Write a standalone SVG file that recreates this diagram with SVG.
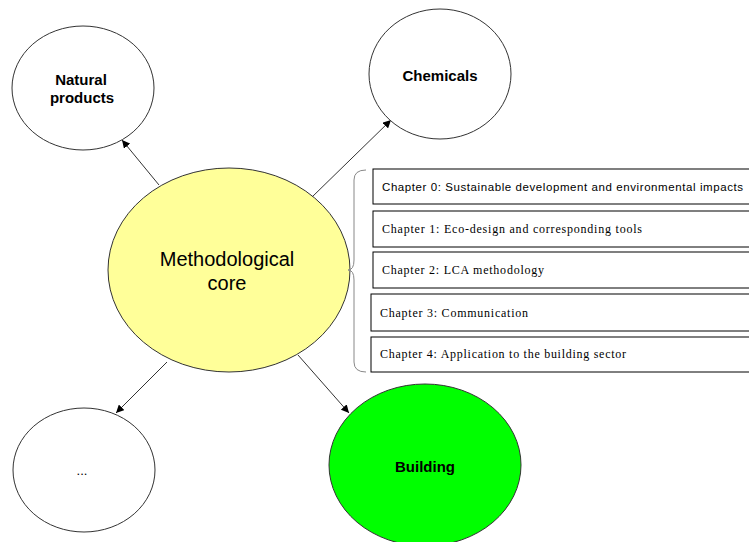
<svg xmlns="http://www.w3.org/2000/svg" width="749" height="542" viewBox="0 0 749 542">
<defs>
<style>
.node{stroke:#333;stroke-width:1}
.lbl{font-family:"Liberation Sans",Arial,sans-serif;font-weight:bold;font-size:15px;fill:#000;text-anchor:middle}
.core{font-family:"Liberation Sans",Arial,sans-serif;font-size:20px;fill:#000;text-anchor:middle}
.box{fill:#fff;stroke:#000;stroke-width:1}
.ser{font-family:"Liberation Serif","Times New Roman",serif;font-size:12px;fill:#000}
.san{font-family:"Liberation Sans",Arial,sans-serif;font-size:11.5px;fill:#000}
.conn{stroke:#333;stroke-width:1;fill:none;marker-end:url(#ah)}
</style>
<marker id="ah" viewBox="0 0 10 10" refX="10" refY="5" markerWidth="8" markerHeight="8" markerUnits="userSpaceOnUse" orient="auto">
<path d="M0,0 L10,5 L0,10 z" fill="#000"/>
</marker>
</defs>
<rect width="749" height="542" fill="#fff"/>
<g id="connectors">
<line class="conn" x1="159" y1="185" x2="122" y2="140"/>
<line class="conn" x1="311" y1="198" x2="391" y2="120"/>
<line class="conn" x1="167" y1="362" x2="116" y2="413"/>
<line class="conn" x1="298" y1="355" x2="349" y2="413"/>
</g>
<g id="natural">
<ellipse class="node" cx="83" cy="88" rx="71" ry="62" fill="#fff"/>
<text class="lbl" x="81" y="85">Natural</text>
<text class="lbl" x="82" y="103">products</text>
</g>
<g id="chemicals">
<ellipse class="node" cx="440" cy="74" rx="71" ry="65" fill="#fff"/>
<text class="lbl" x="440" y="81">Chemicals</text>
</g>
<g id="core">
<ellipse class="node" cx="229" cy="270" rx="121" ry="102" fill="#ffff99"/>
<text class="core" x="227" y="266">Methodological</text>
<text class="core" x="227" y="290">core</text>
</g>
<g id="other">
<ellipse class="node" cx="84" cy="470" rx="71" ry="62" fill="#fff"/>
<text class="lbl" x="82" y="475" style="font-weight:normal;font-size:13px">...</text>
</g>
<g id="building">
<ellipse class="node" cx="425" cy="465" rx="96" ry="81" fill="#00ff00"/>
<text class="lbl" x="425" y="472">Building</text>
</g>
<g id="brace">
<path d="M366,170 Q354,170 354,180 L354,260 Q354,270 348,270 Q354,270 354,280 L354,362 Q354,372 366,372" fill="none" stroke="#888" stroke-width="1"/>
</g>
<g id="chapters">
<g id="ch0"><rect class="box" x="373" y="169" width="380" height="35"/><text class="san" x="382" y="191" textLength="361">Chapter 0: Sustainable development and environmental impacts</text></g>
<g id="ch1"><rect class="box" x="373" y="211" width="380" height="36"/><text class="ser" x="382" y="233" textLength="260">Chapter 1: Eco-design and corresponding tools</text></g>
<g id="ch2"><rect class="box" x="373" y="252" width="380" height="36"/><text class="ser" x="382" y="274" textLength="162">Chapter 2: LCA methodology</text></g>
<g id="ch3"><rect class="box" x="371" y="294" width="382" height="37"/><text class="ser" x="380" y="317" textLength="148">Chapter 3: Communication</text></g>
<g id="ch4"><rect class="box" x="371" y="337" width="382" height="35"/><text class="ser" x="380" y="358" textLength="246">Chapter 4: Application to the building sector</text></g>
</g>
</svg>
